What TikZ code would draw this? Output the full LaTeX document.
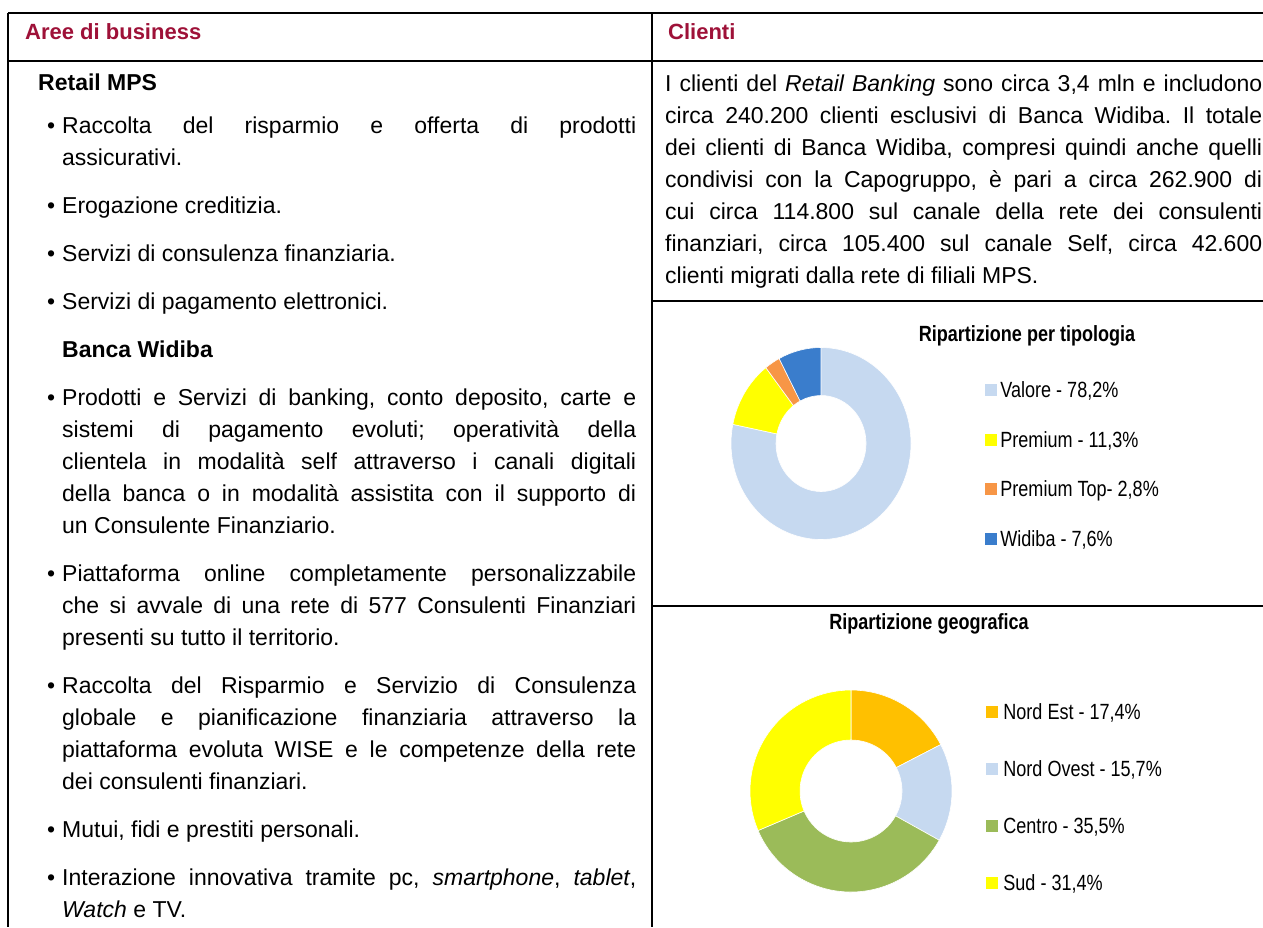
\documentclass[tikz,border=0pt]{standalone}
\usepackage{fontspec}
\setmainfont{Liberation Sans}
\newfontfamily\chartfont[FakeStretch=0.82]{Liberation Sans}
\usetikzlibrary{positioning}

\definecolor{headred}{RGB}{158,17,56}
\definecolor{valore}{RGB}{198,217,240}
\definecolor{premium}{RGB}{255,255,0}
\definecolor{premtop}{RGB}{247,150,70}
\definecolor{widiba}{RGB}{58,125,204}
\definecolor{nordest}{RGB}{255,192,0}
\definecolor{centro}{RGB}{155,187,89}

\setlength{\parindent}{0pt}
\tolerance=9999
\hyphenpenalty=10000
\frenchspacing

\tikzset{
  rule/.style={line width=1.5pt},
  head/.style={anchor=base west, inner sep=0pt, text=headred,
    font=\fontsize{22}{26}\selectfont\bfseries},
  body/.style={anchor=north west, inner sep=0pt, align=justify,
    font=\fontsize{23}{32}\selectfont},
  bodybold/.style={anchor=base west, inner sep=0pt,
    font=\fontsize{23}{32}\selectfont\bfseries},
  legbox/.style={fill=#1, minimum size=12pt, inner sep=0pt},
  legtext/.style={inner sep=0pt, text height=16.5pt, text depth=1pt,
    font=\chartfont\fontsize{22}{26}\selectfont},
  charttitle/.style={anchor=base, inner sep=0pt,
    font=\chartfont\fontsize{22}{26}\selectfont\bfseries},
}

% bullet item with hanging indent
\newcommand{\bulitem}{\hangindent=24pt\hangafter=1\noindent
  \makebox[24pt][l]{\hspace{9pt}\textbullet}\strut}
\newcommand{\bul}{\par\bulitem}

\begin{document}
\begin{tikzpicture}[x=1pt,y=1pt]
    \useasboundingbox (0,0) rectangle (1263,-927);
    % table rules
    \draw[rule] (8,-13) -- (1263,-13);
    \draw[rule] (8,-61) -- (1263,-61);
    \draw[rule] (8,-13) -- (8,-927);
    \draw[rule] (652,-13) -- (652,-927);
    \draw[rule] (652,-301) -- (1263,-301);
    \draw[rule] (652,-606) -- (1263,-606);
    % headers
    \node[head] (hAree) at (25,-39) {Aree di business};
    \node[head] (hCli) at (668,-39) {Clienti};
    % left column
    \node[bodybold] (retail) at (38,-90) {Retail MPS};
    \node[body, text width=598pt] (aree) at (38,-110.6) {\setlength{\parskip}{16pt}%
      \bulitem Raccolta del risparmio e offerta di prodotti\linebreak assicurativi.
      \bul Erogazione creditizia.
      \bul Servizi di consulenza finanziaria.
      \bul Servizi di pagamento elettronici.
      \par\noindent\hspace*{24pt}\strut\textbf{Banca Widiba}
      \bul Prodotti e Servizi di banking, conto deposito, carte e\linebreak sistemi di pagamento evoluti; operatività della\linebreak clientela in modalità self attraverso i canali digitali\linebreak della banca o in modalità assistita con il supporto di\linebreak un Consulente Finanziario.
      \bul Piattaforma online completamente personalizzabile\linebreak che si avvale di una rete di 577 Consulenti Finanziari\linebreak presenti su tutto il territorio.
      \bul Raccolta del Risparmio e Servizio di Consulenza\linebreak globale e pianificazione finanziaria attraverso la\linebreak piattaforma evoluta WISE e le competenze della rete\linebreak dei consulenti finanziari.
      \bul Mutui, fidi e prestiti personali.
      \bul Interazione innovativa tramite pc, \textit{smartphone}, \textit{tablet},\linebreak \textit{Watch} e TV.\par};
    % right column
    \node[body, text width=597pt] (clienti) at (665,-68.6) {\strut I clienti del \textit{Retail Banking} sono circa 3,4 mln e includono\linebreak circa 240.200 clienti esclusivi di Banca Widiba. Il totale\linebreak dei clienti di Banca Widiba, compresi quindi anche quelli\linebreak condivisi con la Capogruppo, è pari a circa 262.900 di\linebreak cui circa 114.800 sul canale della rete dei consulenti\linebreak finanziari, circa 105.400 sul canale Self, circa 42.600\linebreak clienti migrati dalla rete di filiali MPS.\par};
    % chart: tipologia
    \node[charttitle] (tTip) at (1027,-341) {Ripartizione per tipologia};
    \coordinate (dTip) at (821,-443.5);
    \begin{scope}[shift={(dTip)}]
    \foreach \a/\b/\c in {90/-191.5/valore, -191.5/-232.2/premium, -232.2/-242.3/premtop, -242.3/-270/widiba}
      \filldraw[fill=\c, draw=white, line width=0.6pt] (\a:90 and 96) arc[start angle=\a, end angle=\b, x radius=90, y radius=96]
        -- (\b:45 and 48) arc[start angle=\b, end angle=\a, x radius=45, y radius=48] -- cycle;
    \end{scope}
    \node[legbox=valore] (sqVal) at (991,-390) {};
    \node[legtext, right=3pt of sqVal] (txVal) {Valore - 78,2\%};
    \node[legbox=premium] (sqPre) at ([shift={(0,-49.5)}]sqVal) {};
    \node[legtext, right=3pt of sqPre] (txPre) {Premium - 11,3\%};
    \node[legbox=premtop] (sqTop) at ([shift={(0,-49.5)}]sqPre) {};
    \node[legtext, right=3pt of sqTop] (txTop) {Premium Top- 2,8\%};
    \node[legbox=widiba] (sqWid) at ([shift={(0,-49.5)}]sqTop) {};
    \node[legtext, right=3pt of sqWid] (txWid) {Widiba - 7,6\%};
    % chart: geografica
    \node[charttitle] (tGeo) at (929,-629) {Ripartizione geografica};
    \coordinate (dGeo) at (851,-791);
    \begin{scope}[shift={(dGeo)}]
    \foreach \a/\b/\c in {90/27.36/nordest, 27.36/-29.16/valore, -29.16/-156.96/centro, -156.96/-270/premium}
      \filldraw[fill=\c, draw=white, line width=0.6pt] (\a:101) arc[start angle=\a, end angle=\b, radius=101]
        -- (\b:51) arc[start angle=\b, end angle=\a, radius=51] -- cycle;
    \end{scope}
    \node[legbox=nordest] (sqNE) at (992,-712) {};
    \node[legtext, right=5pt of sqNE] (txNE) {Nord Est - 17,4\%};
    \node[legbox=valore] (sqNO) at ([shift={(0,-57)}]sqNE) {};
    \node[legtext, right=5pt of sqNO] (txNO) {Nord Ovest - 15,7\%};
    \node[legbox=centro] (sqCen) at ([shift={(0,-57)}]sqNO) {};
    \node[legtext, right=5pt of sqCen] (txCen) {Centro - 35,5\%};
    \node[legbox=premium] (sqSud) at ([shift={(0,-57)}]sqCen) {};
    \node[legtext, right=5pt of sqSud] (txSud) {Sud - 31,4\%};
\end{tikzpicture}
\end{document}
